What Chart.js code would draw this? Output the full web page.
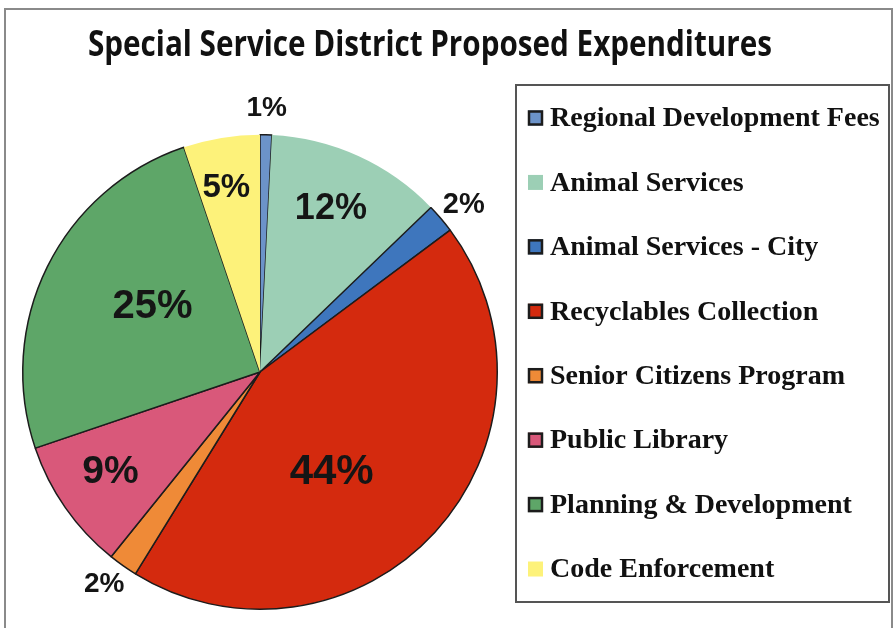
<!DOCTYPE html>
<html>
<head>
<meta charset="utf-8">
<script src="https://cdn.jsdelivr.net/npm/chart.js@4.4.1/dist/chart.umd.min.js"></script>
<style>
  html, body { margin: 0; padding: 0; background: #ffffff; }
  #wrap { position: relative; width: 896px; height: 628px; }
</style>
</head>
<body>
<div id="wrap"><canvas id="c"></canvas></div>
<script>
// ---- data ----
const chartTitle = "Special Service District Proposed Expenditures";
const categories = [
  "Regional Development Fees",
  "Animal Services",
  "Animal Services - City",
  "Recyclables Collection",
  "Senior Citizens Program",
  "Public Library",
  "Planning & Development",
  "Code Enforcement"
];
const shares = [0.8, 12, 2, 44, 2, 9, 25, 5.2];
const percentLabels = ["1%", "12%", "2%", "44%", "2%", "9%", "25%", "5%"];

// ---- styles ----
const sliceColors = ["#6c93c9", "#9ccfb5", "#3e76bd", "#d42a0e", "#ef8a37", "#d9587a", "#5ea668", "#fdf27a"];
const sliceBorders = ["#1c1c1c", "rgba(0,0,0,0)", "#1c1c1c", "#1c1c1c", "#1c1c1c", "#1c1c1c", "#1c1c1c", "rgba(0,0,0,0)"];
const labelRadiusFrac = [1.11, 0.75, 1.11, 0.52, 1.11, 0.76, 0.53, 0.79];
const labelAngleShift = [0, -1, 1, 12, 1, 1, 5, -1];
const labelFontSize = [28, 36, 29, 42, 28, 39, 40, 33];

const decorPlugin = {
  id: 'decor',
  beforeDraw(chart) {
    const ctx = chart.ctx;
    ctx.save();
    ctx.fillStyle = '#ffffff';
    ctx.fillRect(0, 0, chart.width, chart.height);
    ctx.strokeStyle = '#8a8a8a';
    ctx.lineWidth = 2;
    ctx.strokeRect(5, 9, 887, 640);
    ctx.restore();
  },
  afterDraw(chart) {
    const ctx = chart.ctx;
    ctx.save();
    // title
    ctx.fillStyle = '#111111';
    ctx.font = 'bold 35px "Open Sans"';
    ctx.textBaseline = 'alphabetic';
    ctx.textAlign = 'left';
    const tw = ctx.measureText(chartTitle).width;
    const sx = 684 / tw;
    ctx.save();
    ctx.translate(88, 56);
    ctx.scale(sx, 1);
    ctx.fillText(chartTitle, 0, 0);
    ctx.restore();

    // percent labels
    const meta = chart.getDatasetMeta(0);
    meta.data.forEach((arc, i) => {
      const p = arc.getProps(['x', 'y', 'startAngle', 'endAngle', 'outerRadius'], true);
      const mid = (p.startAngle + p.endAngle) / 2 + labelAngleShift[i] * Math.PI / 180;
      const r = p.outerRadius * labelRadiusFrac[i];
      const lx = p.x + Math.cos(mid) * r;
      const ly = p.y + Math.sin(mid) * r;
      ctx.font = 'bold ' + labelFontSize[i] + 'px "Liberation Sans", Arial, sans-serif';
      ctx.textAlign = 'center';
      ctx.textBaseline = 'middle';
      ctx.fillStyle = '#151515';
      ctx.fillText(percentLabels[i], lx, ly);
    });

    // legend box
    ctx.strokeStyle = '#555555';
    ctx.lineWidth = 2;
    ctx.strokeRect(516, 85, 373, 517);
    const y0 = 118, step = 64.43;
    categories.forEach((name, i) => {
      const y = y0 + i * step;
      ctx.fillStyle = sliceColors[i];
      ctx.fillRect(528, y - 7.5, 15, 15);
      if (sliceBorders[i] !== 'rgba(0,0,0,0)') {
        ctx.strokeStyle = '#1c1c1c';
        ctx.lineWidth = 2.5;
        ctx.strokeRect(529, y - 6.5, 13, 13);
      }
      ctx.fillStyle = '#111111';
      ctx.font = 'bold 28px "Liberation Serif", "Times New Roman", serif';
      ctx.textAlign = 'left';
      ctx.textBaseline = 'middle';
      ctx.fillText(name, 550, y + 1);
    });
    ctx.restore();
  }
};

new Chart(document.getElementById('c'), {
  type: 'pie',
  data: {
    labels: categories,
    datasets: [{
      data: shares,
      backgroundColor: sliceColors,
      borderColor: sliceBorders,
      borderWidth: 1.5
    }]
  },
  options: {
    responsive: true,
    maintainAspectRatio: false,
    animation: false,
    layout: { padding: { left: 22, right: 398, top: 134, bottom: 18 } },
    plugins: {
      legend: { display: false },
      title: { display: false },
      tooltip: { enabled: false }
    }
  },
  plugins: [decorPlugin]
});
</script>
</body>
</html>
